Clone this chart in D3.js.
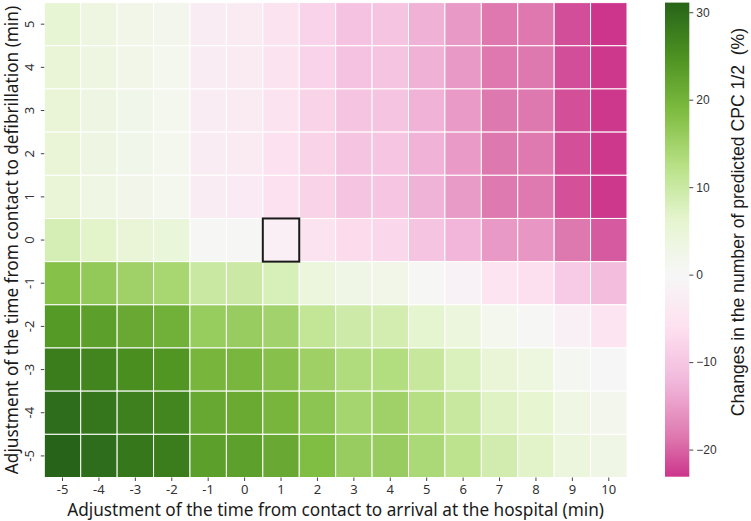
<!DOCTYPE html>
<html>
<head>
<meta charset="utf-8">
<script src="https://cdn.jsdelivr.net/npm/d3@7"></script>
<style>
  body { margin: 0; background: #fff; }
  svg { display: block; }
</style>
</head>
<body>
<script>
// Data //////////////////////////////////////////////////////////////////////

// x: adjustment of time from contact to arrival at hospital (min)
const arrivalShifts = [-5, -4, -3, -2, -1, 0, 1, 2, 3, 4, 5, 6, 7, 8, 9, 10];
// y: adjustment of time from contact to defibrillation (min), top to bottom
const defibShifts = [5, 4, 3, 2, 1, 0, -1, -2, -3, -4, -5];

// change in predicted CPC 1/2 (%), one list per defibrillation shift
const rowDefib5 = [5.4, 3.3, 2.2, 1.6, -3.0, -3.2, -5.4, -8.1, -10.5, -10.4, -12.9, -15.3, -18.6, -18.6, -21.4, -23.1];
const rowDefib4 = [5.3, 3.3, 2.2, 1.5, -3.0, -3.3, -5.5, -8.1, -10.5, -10.3, -12.9, -15.3, -18.6, -18.5, -21.4, -23.0];
const rowDefib3 = [5.3, 3.2, 2.1, 1.5, -3.1, -3.3, -5.5, -8.2, -10.4, -10.3, -12.8, -15.2, -18.5, -18.5, -21.3, -23.0];
const rowDefib2 = [5.2, 3.2, 2.1, 1.5, -3.1, -3.3, -5.6, -8.2, -10.4, -10.2, -12.8, -15.2, -18.5, -18.4, -21.3, -22.9];
const rowDefib1 = [5.2, 3.1, 2.0, 1.4, -3.1, -3.4, -5.6, -8.2, -10.3, -10.2, -12.7, -15.1, -18.4, -18.4, -21.2, -22.9];
const rowDefib0 = [8.5, 6.6, 5.3, 4.6, 0.5, 0.3, -2.2, -5.4, -7.0, -7.5, -10.4, -12.4, -15.3, -15.5, -18.5, -20.6];
const rowDefibM1 = [17.9, 16.5, 15.1, 14.2, 10.1, 9.9, 8.2, 4.3, 2.7, 2.3, 0.3, -1.5, -5.0, -6.2, -9.3, -11.4];
const rowDefibM2 = [23.9, 22.9, 21.4, 20.3, 16.0, 15.9, 14.9, 11.1, 9.6, 8.8, 6.3, 4.2, 1.4, 0.5, -1.9, -4.9];
const rowDefibM3 = [27.8, 26.7, 25.4, 24.4, 19.7, 19.5, 17.8, 15.3, 13.2, 13.0, 10.6, 7.8, 5.3, 3.8, 1.0, -0.3];
const rowDefibM4 = [29.9, 28.8, 27.3, 26.5, 21.6, 21.3, 19.7, 17.1, 14.5, 15.1, 12.8, 10.4, 7.3, 6.0, 3.0, 1.6];
const rowDefibM5 = [31.1, 29.9, 28.5, 27.8, 23.0, 22.8, 21.4, 18.5, 15.9, 15.9, 13.8, 11.8, 8.9, 6.8, 4.3, 2.7];

const colorbarTicks = [-20, -10, 0, 10, 20, 30];
// the reference cell outlined in black
const baseline = { arrival: 1, defib: 0 };

const xLabel = "Adjustment of the time from contact to arrival at the hospital (min)";
const yLabel = "Adjustment of the time from contact to defibrillation (min)";
const barLabel = "Changes in the number of predicted CPC 1/2\u00a0\u00a0(%)";

// Layout ////////////////////////////////////////////////////////////////////

const width = 751;
const height = 521;
const plot = { left: 44.3, right: 627, top: 2.6, bottom: 477.5 };
const bar = { left: 665, right: 689.3 };
const axisFont = "'Noto Sans', sans-serif";
const barFont = "'Liberation Sans', Arial, sans-serif";

const rows = [
  rowDefib5, rowDefib4, rowDefib3, rowDefib2, rowDefib1, rowDefib0,
  rowDefibM1, rowDefibM2, rowDefibM3, rowDefibM4, rowDefibM5,
];
const cells = rows.flatMap((row, i) =>
  row.map((value, j) => ({ arrival: arrivalShifts[j], defib: defibShifts[i], value }))
);

const svg = d3
  .select("body")
  .append("svg")
  .attr("width", width)
  .attr("height", height);

const xScale = d3
  .scaleBand()
  .domain(arrivalShifts)
  .range([plot.left, plot.right]);

const yScale = d3
  .scaleBand()
  .domain(defibShifts)
  .range([plot.top, plot.bottom]);

// seaborn-style centred PiYG: the map spans +-max|v| and is cut at the data range
const vMin = d3.min(cells, (d) => d.value);
const vMax = d3.max(cells, (d) => d.value);
const half = Math.max(Math.abs(vMin), Math.abs(vMax));
const piyg = d3.schemePiYG[11];
const color = d3
  .scaleLinear()
  .domain(piyg.map((_, i) => -half + (2 * half * i) / (piyg.length - 1)))
  .range(piyg)
  .clamp(true);

drawCells(svg.append("g"));
drawBaseline(svg.append("g"));
drawXAxis(svg.append("g"));
drawYAxis(svg.append("g"));
drawColorbar(svg.append("g"));

// Heatmap ///////////////////////////////////////////////////////////////////

function drawCells(root) {
  root
    .selectAll("rect")
    .data(cells)
    .join("rect")
    .attr("x", (d) => xScale(d.arrival))
    .attr("y", (d) => yScale(d.defib))
    .attr("width", xScale.bandwidth())
    .attr("height", yScale.bandwidth())
    .attr("fill", (d) => color(d.value))
    .attr("stroke", "#fff")
    .attr("stroke-width", 1);
}

function drawBaseline(root) {
  root
    .append("rect")
    .attr("x", xScale(baseline.arrival))
    .attr("y", yScale(baseline.defib))
    .attr("width", xScale.bandwidth())
    .attr("height", yScale.bandwidth())
    .attr("fill", "none")
    .attr("stroke", "#1a1a1a")
    .attr("stroke-width", 2);
}

// Axes //////////////////////////////////////////////////////////////////////

function drawXAxis(root) {
  root
    .attr("transform", `translate(0, ${plot.bottom})`)
    .call(d3.axisBottom(xScale).tickSize(3.5).tickPadding(3.7).tickFormat((d) => String(d)))
    .call((g) => g.select(".domain").remove());

  root.selectAll(".tick line").attr("stroke", "#444");
  root
    .selectAll(".tick text")
    .attr("fill", "#333")
    .attr("font-family", axisFont)
    .attr("font-size", 13);

  // baseline sits near y = 516 in the page
  root
    .append("text")
    .text(xLabel)
    .attr("x", (plot.left + plot.right) / 2)
    .attr("y", 516.3 - plot.bottom)
    .attr("text-anchor", "middle")
    .attr("fill", "#1a1a1a")
    .attr("font-family", axisFont)
    .attr("font-size", 17.2);
}

function drawYAxis(root) {
  root
    .attr("transform", `translate(${plot.left}, 0)`)
    .call(d3.axisLeft(yScale).tickSize(3.5).tickFormat((d) => String(d)))
    .call((g) => g.select(".domain").remove());

  root.selectAll(".tick line").attr("stroke", "#444");
  root
    .selectAll(".tick text")
    .attr("x", null)
    .attr("dy", null)
    .attr("transform", "translate(-15, 0) rotate(-90)")
    .attr("text-anchor", "middle")
    .attr("dominant-baseline", "central")
    .attr("fill", "#333")
    .attr("font-family", axisFont)
    .attr("font-size", 13);

  // rotated: baseline lies on x = 18 in the page
  root
    .append("text")
    .text(yLabel)
    .attr("transform", `translate(${18 - plot.left}, ${(plot.top + plot.bottom) / 2}) rotate(-90)`)
    .attr("text-anchor", "middle")
    .attr("fill", "#1a1a1a")
    .attr("font-family", axisFont)
    .attr("font-size", 17.2);
}

// Colorbar //////////////////////////////////////////////////////////////////

function drawColorbar(root) {
  const barScale = d3.scaleLinear().domain([vMin, vMax]).range([plot.bottom - 0.8, plot.top]);

  const gradient = root
    .append("defs")
    .append("linearGradient")
    .attr("id", "bar-gradient")
    .attr("x1", 0)
    .attr("y1", 1)
    .attr("x2", 0)
    .attr("y2", 0);

  gradient
    .selectAll("stop")
    .data(d3.range(0, 1.0001, 0.02))
    .join("stop")
    .attr("offset", (t) => t)
    .attr("stop-color", (t) => color(vMin + t * (vMax - vMin)));

  root
    .append("rect")
    .attr("x", bar.left)
    .attr("y", barScale(vMax))
    .attr("width", bar.right - bar.left)
    .attr("height", barScale(vMin) - barScale(vMax))
    .attr("fill", "url(#bar-gradient)");

  const axis = root
    .append("g")
    .attr("transform", `translate(${bar.right}, 0)`)
    .call(d3.axisRight(barScale).tickValues(colorbarTicks).tickSize(4).tickPadding(3))
    .call((g) => g.select(".domain").remove());

  axis.selectAll(".tick line").attr("stroke", "#444");
  axis
    .selectAll(".tick text")
    .attr("fill", "#333")
    .attr("font-family", barFont)
    .attr("font-size", 12);

  root
    .append("text")
    .text(barLabel)
    .attr("transform", `translate(738, 222) rotate(-90)`)
    .attr("dy", "0.35em")
    .attr("text-anchor", "middle")
    .attr("fill", "#1a1a1a")
    .attr("font-family", barFont)
    .attr("font-size", 17.6);
}
</script>
</body>
</html>
